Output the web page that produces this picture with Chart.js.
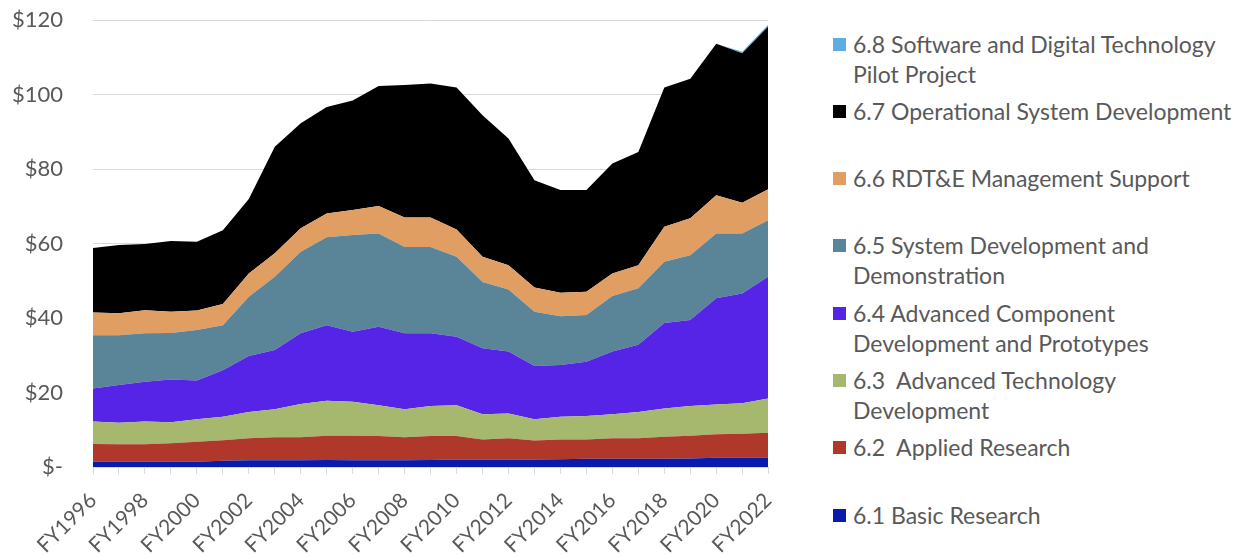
<!DOCTYPE html>
<html>
<head>
<meta charset="utf-8">
<script src="https://cdn.jsdelivr.net/npm/chart.js@4"></script>
<style>
  body { margin: 0; background: #fff; font-family: Lato, sans-serif; overflow: hidden; }
  #wrap { position: relative; width: 1248px; height: 556px; overflow: hidden; }
  #chartBox { position: absolute; left: 0; top: -23px; width: 800px; height: 579px; }
  .item { position: absolute; left: 833px; color: #595959; font-size: 23px; line-height: 30px; white-space: nowrap; }
  .sw { position: absolute; left: 0; top: 9px; width: 13px; height: 13px; }
  .txt { margin-left: 20px; }
</style>
</head>
<body>
<div id="wrap">
  <div id="chartBox"><canvas id="area"></canvas></div>
  <div id="legend"></div>
</div>
<script>
var years = ["FY1996","FY1997","FY1998","FY1999","FY2000","FY2001","FY2002","FY2003","FY2004",
  "FY2005","FY2006","FY2007","FY2008","FY2009","FY2010","FY2011","FY2012","FY2013","FY2014",
  "FY2015","FY2016","FY2017","FY2018","FY2019","FY2020","FY2021","FY2022"];

// $ billions
var basicResearch   = [1.4,1.4,1.4,1.4,1.4,1.7,1.8,1.8,1.8,1.9,1.8,1.8,1.8,1.9,2.0,2.0,2.0,2.0,2.1,2.2,2.2,2.2,2.2,2.3,2.5,2.5,2.5];
var appliedResearch = [4.8,4.7,4.7,5.0,5.4,5.5,5.9,6.2,6.2,6.5,6.6,6.5,6.2,6.4,6.3,5.4,5.7,5.1,5.3,5.2,5.5,5.5,5.9,6.1,6.3,6.4,6.7];
var advTechDev      = [6.0,5.8,6.1,5.6,6.0,6.3,7.1,7.5,8.9,9.4,9.1,8.3,7.5,8.1,8.3,6.8,6.7,5.7,6.1,6.3,6.5,7.1,7.6,8.0,8.0,8.2,9.2];
var advComponent    = [8.9,10.1,10.7,11.5,10.4,12.5,15.0,15.9,19.0,20.3,18.8,21.1,20.4,19.5,18.4,17.7,16.6,14.3,13.9,14.6,16.8,18.0,23.0,23.1,28.5,29.5,32.7];
var sysDevDemo      = [14.3,13.4,13.0,12.5,13.6,12.1,15.9,19.7,21.9,23.6,26.0,25.0,23.2,23.2,21.5,17.8,16.7,14.6,13.1,12.5,14.9,15.2,16.4,17.4,17.4,16.1,15.2];
var mgmtSupport     = [6.1,5.9,6.2,5.7,5.2,5.7,6.3,6.3,6.3,6.4,6.7,7.4,7.9,7.9,7.3,6.8,6.5,6.5,6.3,6.3,6.1,6.2,9.4,9.9,10.3,8.3,8.3];
var opSysDev        = [17.3,18.3,17.8,19.0,18.5,19.8,20.0,28.6,28.2,28.6,29.4,32.2,35.6,36.0,38.1,38.0,34.0,28.8,27.6,27.3,29.5,30.4,37.4,37.5,40.7,40.1,43.7];
var swPilot         = [0,0,0,0,0,0,0,0,0,0,0,0,0,0,0,0,0,0,0,0,0,0,0,0,0,0.4,0.5];

var seriesNames = ["6.1 Basic Research", "6.2  Applied Research", "6.3  Advanced Technology Development",
  "6.4 Advanced Component Development and Prototypes", "6.5 System Development and Demonstration",
  "6.6 RDT&E Management Support", "6.7 Operational System Development",
  "6.8 Software and Digital Technology Pilot Project"];
var seriesData = [basicResearch, appliedResearch, advTechDev, advComponent, sysDevDemo, mgmtSupport, opSysDev, swPilot];
var seriesColors = ["#0a1aaa", "#b0382a", "#a6b86e", "#5524e6", "#5a8498", "#e19e62", "#000000", "#5eade2"];

var datasets = seriesData.map(function(d, i){
  return {
    label: seriesNames[i],
    data: d,
    backgroundColor: seriesColors[i],
    borderWidth: 0,
    pointRadius: 0,
    fill: i === 0 ? 'origin' : '-1'
  };
});

var ctx = document.getElementById('area').getContext('2d');
var chart = new Chart(ctx, {
  type: 'line',
  data: { labels: years, datasets: datasets },
  options: {
    responsive: true,
    maintainAspectRatio: false,
    animation: false,
    layout: { padding: { top: 0, right: 22 } },
    plugins: { legend: { display: false }, tooltip: { enabled: false } },
    scales: {
      x: {
        grid: { drawOnChartArea: false, drawTicks: true, tickLength: 7, color: '#d9d9d9' },
        border: { color: '#d9d9d9' },
        ticks: {
          autoSkip: false, maxRotation: 45, minRotation: 45, padding: 14,
          color: '#595959', font: { family: 'Lato', size: 21 },
          callback: function(v, i){ return i % 2 === 0 ? years[i] : ''; }
        },
        afterFit: function(s){ s.height = 89; }
      },
      y: {
        stacked: true, min: 0, max: 120,
        grid: { color: '#d9d9d9', drawTicks: false },
        border: { display: false },
        ticks: {
          stepSize: 20, padding: 30,
          color: '#595959', font: { family: 'Lato', size: 22 },
          callback: function(v){ return v === 0 ? '$-' : '$' + v; }
        },
        afterFit: function(s){ s.width = 93; }
      }
    }
  }
});

// legend to the right, top entry first
var legendTops = [44, 111, 178, 245, 313, 380, 447, 515];
var legendLines = [
  ["6.8 Software and Digital Technology", "Pilot Project"],
  ["6.7 Operational System Development"],
  ["6.6 RDT&amp;E Management Support"],
  ["6.5 System Development and", "Demonstration"],
  ["6.4 Advanced Component", "Development and Prototypes"],
  ["6.3&nbsp; Advanced Technology", "Development"],
  ["6.2&nbsp; Applied Research"],
  ["6.1 Basic Research"]
];
var html = '';
for (var k = 0; k < legendLines.length; k++) {
  var col = seriesColors[seriesColors.length - 1 - k];
  html += '<div class="item" style="top:' + (legendTops[k] - 15) + 'px">' +
    '<span class="sw" style="background:' + col + '"></span>' +
    '<div class="txt">' + legendLines[k].join('<br>') + '</div></div>';
}
document.getElementById('legend').innerHTML = html;
</script>
</body>
</html>
